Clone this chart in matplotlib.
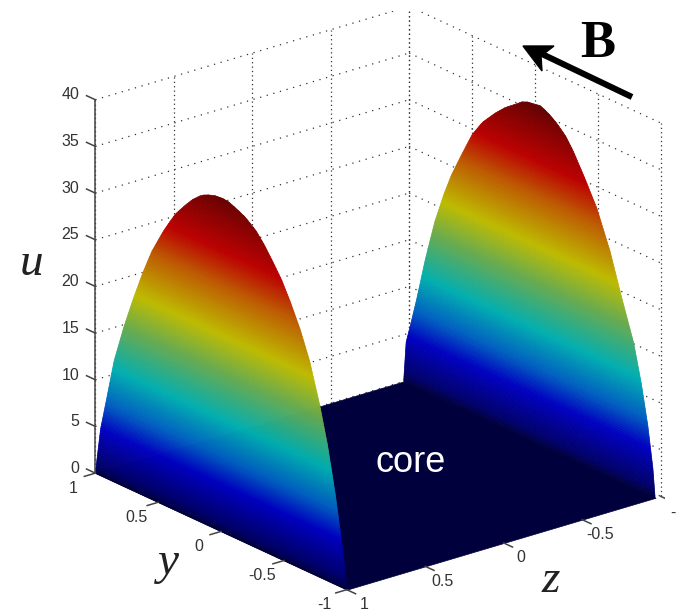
import numpy as np
import matplotlib
matplotlib.use("Agg")
import matplotlib.pyplot as plt
from matplotlib.colors import LinearSegmentedColormap, Normalize
from matplotlib.patches import Polygon
from mpl_toolkits.mplot3d import proj3d

W, H = 679, 613

# profils (y -> hauteur de la crete)
y_left = [1, .98, .96, .92, .856, .78, .704, .63, .56, .47, .42, .376, .3, .24, .17, .096, .05, 0, -.05, -.104, -.18, -.264, -.33, -.4, -.47, -.536, -.62, -.696, -.776, -.84, -.904, -.95, -.98, -1]
u_left = [0, 2.5, 5, 8, 12.9, 17, 20.6, 23.8, 26.5, 29.2, 30.5, 31.6, 33, 34, 34.9, 35.4, 35.55, 35.6, 35.5, 35.2, 34.7, 33.8, 32.7, 31.3, 29.8, 28, 25.4, 22.5, 18.4, 14.5, 9.6, 5.5, 2.5, 0]
y_right = [1, .984, .95, .904, .84, .768, .7, .64, .56, .48, .4, .3, .22, .144, .09, .04, -.01, -.056, -.12, -.192, -.26, -.32, -.41, -.512, -.62, -.72, -.816, -.88, -.936, -.98, -1]
u_right = [0, 4.3, 6.4, 9.4, 14, 18.5, 21.8, 24.3, 27, 29.6, 31.4, 33, 34.1, 34.9, 35.5, 35.8, 35.95, 36, 35.6, 34.9, 34, 32.8, 30.6, 27.9, 24, 19.5, 15.4, 11.5, 7.3, 3, 0]

ticks_yz = [-1, -.5, 0, .5, 1]
ticks_u = [0, 5, 10, 15, 20, 25, 30, 35, 40]
tick_txt = {-1: "-1", -.5: "-0.5", 0: "0", .5: "0.5", 1: "1"}

# colormap type jet assombrie, niveaux
cmap_u = [0, 1, 5, 8, 12, 17, 21, 26, 30, 34, 37]
cmap_col = ["#00003c", "#00006a", "#0000c0", "#005fc0", "#00aeb0", "#66aa50", "#bdbb00", "#bd5f00", "#bb0000", "#820000", "#500000"]
cm = LinearSegmentedColormap.from_list("dark_jet", [(v / 37, c) for v, c in zip(cmap_u, cmap_col)], N=512)
norm = Normalize(0, 37)


def px(x, y):
    return x / W, 1 - y / H


def wall(ax, ys, us, z_base, z_top, order):
    # couche mince decoupee par niveaux de u, comme un contourf
    ys = np.array(ys)
    us = np.array(us)
    top = us.argmax()
    levels = np.append(np.arange(0, us[top], .25), us[top])
    ya = np.interp(levels, us[:top + 1], ys[:top + 1])
    yb = np.interp(levels, us[top:][::-1], ys[top:][::-1])
    Y = np.column_stack([ya, yb])
    U = np.column_stack([levels, levels])
    Z = z_base + (z_top - z_base) * U / us[top]
    avg = (U[:-1, :-1] + U[1:, :-1] + U[:-1, 1:] + U[1:, 1:]) / 4
    ax.plot_surface(Y, Z, U, facecolors=cm(norm(avg)), rstride=1, cstride=1, shade=False,
                    linewidth=.5, antialiased=True, zorder=order)


def label(ax, y, z, u, s, ha="center"):
    x2, y2, _ = proj3d.proj_transform(y, z, u, ax.get_proj())
    ax.text2D(x2, y2, s, transform=ax.transData, ha=ha, va="center", fontsize=11.5,
              color="#333333", family="Liberation Sans")


fig = plt.figure(figsize=(W / 100, H / 100), dpi=100)
size = 590
ax = fig.add_axes([(370 - size / 2) / W, (H - 306 - size / 2) / H, size / W, size / H],
                  projection="3d", proj_type="ortho", computed_zorder=False)
ax.view_init(elev=21.8, azim=141.3)
ax.set_xlim(-1, 1)
ax.set_ylim(-1, 1)
ax.set_zlim(0, 40)
ax.set_box_aspect((1, 1, 1), zoom=1.146)
ax.set_axis_off()

# grille pointillee
dot_h = dict(color="#333333", lw=.9, ls=(0, (1, 4.5)), zorder=1)
dot_v = dict(color="#333333", lw=.9, ls=(0, (1, 2.5)), zorder=1)
for u in ticks_u:
    ax.plot([1, 1], [1, -1], [u, u], **dot_h)
    ax.plot([1, -1], [-1, -1], [u, u], **dot_h)
for t in ticks_yz:
    ax.plot([1, 1], [t, t], [0, 40], **dot_v)
    ax.plot([t, t], [-1, -1], [0, 40], **dot_v)

# plancher du coeur
fy, fz = np.meshgrid(np.array([-1, 1]), np.array([-.968, 1]))
ax.plot_surface(fy, fz, np.zeros_like(fy), color="#00003c", shade=False, linewidth=.5, edgecolor="#00003c", zorder=2)

wall(ax, y_right, u_right, -.965, -.99, 3)
wall(ax, y_left, u_left, 1, .988, 4)

# axes et graduations
line = dict(color="#444444", lw=1.1, zorder=6)
ax.plot([1, 1], [1, 1], [0, 40], **line)
for u in ticks_u:
    ax.plot([1, 1.07], [1, 1], [u, u], **line)
    label(ax, 1.13, 1, u - .3, str(u), ha="right")
for t in ticks_yz:
    ax.plot([t, t], [1, 1.07], [0, 0], **line)
    ax.plot([-1, -1.07], [t, t], [0, 0], **line)
    label(ax, t, 1.14, -.9, tick_txt[t])
    if t > -1:
        label(ax, -1.14, t, -.7, tick_txt[t])
# le -1 de droite est coupe par le bord dans l'original, seul le signe reste
label(ax, -1.10, -1, -1.2, "-", ha="center")

# annotations
serif = "Liberation Serif"
fig.text(*px(31, 264), "u", fontsize=34, style="italic", family=serif, ha="center", va="center", color="#222222")
fig.text(*px(168, 563), "y", fontsize=34, style="italic", family=serif, ha="center", va="center", color="#222222")
fig.text(*px(551, 581), "z", fontsize=34, style="italic", family=serif, ha="center", va="center", color="#222222")
fig.text(*px(598, 44), "B", fontsize=38, weight="bold", family=serif, ha="center", va="center", color="black")
fig.text(*px(411, 462), "core", fontsize=26, family="Liberation Sans", ha="center", va="center", color="white")
fig.add_artist(plt.Line2D([632 / W, 542 / W], [1 - 97 / H, 1 - 54 / H], color="black", lw=4.4, solid_capstyle="butt"))
fig.add_artist(Polygon([px(523, 46), px(554, 46), px(541, 56), px(542, 71)], closed=True, color="black",
                       transform=fig.transFigure))

fig.savefig("out.png", dpi=100)
